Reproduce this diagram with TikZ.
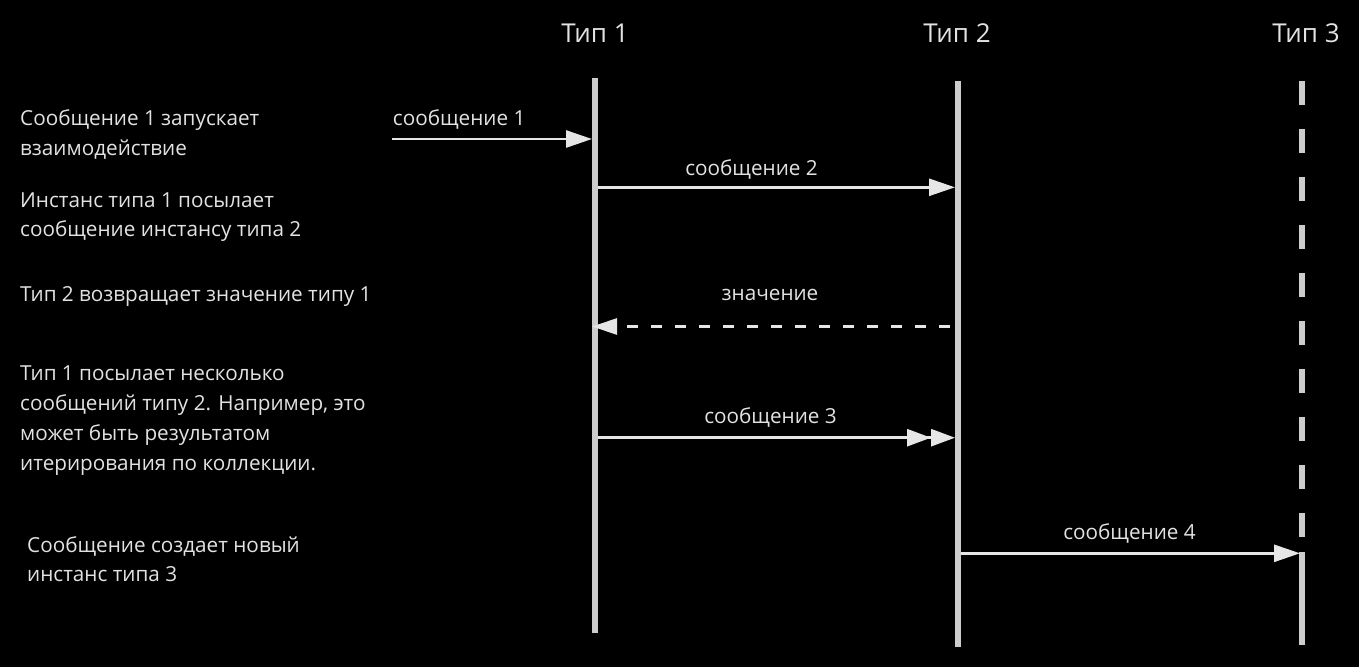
\documentclass[tikz,border=0pt]{standalone}
\usepackage{fontspec}
\setmainfont{Open Sans}
\usetikzlibrary{arrows.meta}
\definecolor{txt}{HTML}{E2E2E2}
\definecolor{life}{HTML}{CDCDCD}
\definecolor{msg}{HTML}{E6E6E6}
\begin{document}
\begin{tikzpicture}[x=1pt,y=-1pt,
  lifeline/.style={line width=6pt, draw=life},
  msgline/.style={line width=2.7pt, draw=msg, -{Triangle[length=26pt,width=17pt]}},
  retline/.style={line width=2.7pt, draw=msg, dash pattern=on 11pt off 13pt, -{Triangle[length=25pt,width=16pt]}},
  multiline/.style={line width=2.7pt, draw=msg, -{Triangle[length=24pt,width=17pt,sep=0pt]Triangle[length=24pt,width=17pt]}},
  titletext/.style={text=txt, font=\fontsize{26}{30}\selectfont, inner sep=0pt, anchor=base},
  msgtext/.style={text=txt, font=\fontsize{20.7}{29.7}\selectfont, inner sep=0pt, anchor=base},
  note/.style={text=txt, font=\fontsize{20.7}{29.7}\selectfont, inner sep=0pt, align=left, anchor=base west}]
\fill[black] (0,0) rectangle (1359,667);
\useasboundingbox (0,0) rectangle (1359,667);

% titles
\node[titletext] (t1) at (595,42.7) {Тип 1};
\node[titletext] (t2) at (957,42.7) {Тип 2};
\node[titletext] (t3) at (1306,42.7) {Тип 3};

% lifelines
\coordinate (l1top) at (595,78);
\coordinate (l1bot) at (595,633);
\coordinate (l2top) at (958,81);
\coordinate (l2bot) at (958,647);
\coordinate (l3top) at (1301.5,81);
\coordinate (l3dashend) at (1301.5,537);
\coordinate (l3start) at (1301.5,552);
\coordinate (l3bot) at (1301.5,645);
\draw[lifeline] (l1top) -- (l1bot);
\draw[lifeline] (l2top) -- (l2bot);
\draw[lifeline, dash pattern=on 24pt off 24pt] (l3top) -- (l3dashend);
\draw[lifeline] (l3start) -- (l3bot);

% message endpoints
\coordinate (m1s) at (392,139);
\coordinate (m1e) at (592,139);
\coordinate (m2s) at (598,187.3);
\coordinate (m2e) at (955,187.3);
\coordinate (vs) at (950,326.5);
\coordinate (ve) at (592,326.5);
\coordinate (m3s) at (598,437.7);
\coordinate (m3e) at (955,437.7);
\coordinate (m4s) at (961,553.3);
\coordinate (m4e) at (1300,553.3);

\draw[msgline] (m1s) -- (m1e);
\draw[msgline] (m2s) -- (m2e);
\draw[retline] (vs) -- (ve);
\draw[multiline] (m3s) -- (m3e);
\draw[msgline] (m4s) -- (m4e);

% message labels
\node[msgtext, anchor=base west] (lab1) at (392.7,125) {сообщение 1};
\node[msgtext] (lab2) at (751.5,175.5) {сообщение 2};
\node[msgtext] (labv) at (770,300) {значение};
\node[msgtext] (lab3) at (770.5,423) {сообщение 3};
\node[msgtext] (lab4) at (1129.5,539) {сообщение 4};

% notes (anchor at baseline of last line)
\node[note] (nA) at (20,155) {Сообщение 1 запускает\\взаимодействие};
\node[note] (nB) at (20,236.7) {Инстанс типа 1 посылает\\сообщение инстансу типа 2};
\node[note] (nC) at (20,301) {Тип 2 возвращает значение типу 1};
\node[note] (nD) at (20,470) {Тип 1 посылает несколько\\сообщений типу 2. Например, это\\может быть результатом\\итерирования по коллекции.};
\node[note] (nE) at (27,581.7) {Сообщение создает новый\\инстанс типа 3};
\end{tikzpicture}
\end{document}
